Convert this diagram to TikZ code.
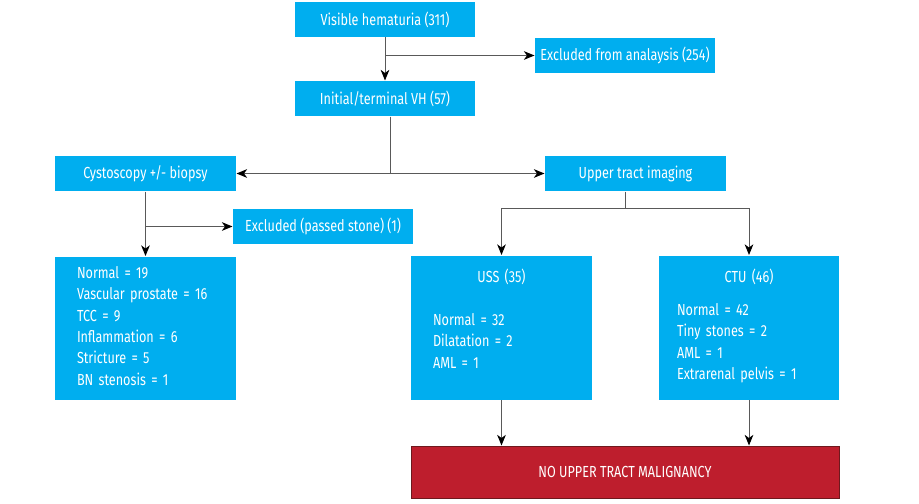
\documentclass[tikz,border=0pt]{standalone}
\usepackage{fontspec}
\setmainfont{Fira Sans}[FakeStretch=0.79]
\usetikzlibrary{arrows.meta}
\definecolor{boxblue}{RGB}{0,174,239}
\definecolor{boxred}{RGB}{190,30,45}
\definecolor{redline}{RGB}{110,25,30}
\tikzset{every picture/.style={line width=0.75pt}}
\tikzset{
  box/.style={fill=boxblue, text=white, inner sep=0pt, minimum width=135pt, minimum height=26.25pt, font=\fontsize{12}{16}\selectfont},
  listbox/.style={box, anchor=north, align=left, inner xsep=16.5pt, inner ysep=0pt, text height=20.25pt, text depth=87.75pt},
  link/.style={draw=black!65, line width=0.75pt},
  arr/.style={link, -{Stealth[length=8pt,width=6.5pt,inset=2.4pt,color=black]}},
}

\begin{document}
\begin{tikzpicture}[x=0.75pt,y=0.75pt,yscale=-1,xscale=1]
	\useasboundingbox (0,0) rectangle (919,503);
	
	%Boxes, top row
	\node[box] (vh) at (385,19.5) {Visible hematuria (311)};
	\node[box] (excl) at (625,55.5) {Excluded from analaysis (254)};
	\node[box] (ivh) at (385,98.5) {Initial/terminal VH (57)};
	%Boxes, second row
	\node[box, minimum width=135.75pt] (cysto) at (145.5,173.5) {Cystoscopy +/- biopsy};
	\node[box, minimum width=135.75pt] (uti) at (635.5,173.5) {Upper tract imaging};
	\node[box] (stone) at (323,226.5) {Excluded (passed stone) (1)};
	
	%Result boxes
	\node[listbox, text width=102.75pt, text height=16.5pt, text depth=90.75pt] (cres) at (145.5,256) {Normal = 19\\Vascular prostate = 16\\TCC = 9\\Inflammation = 6\\Stricture = 5\\BN stenosis = 1};
	\node[listbox, text width=102.75pt] (uss) at (501.5,255) {\makebox[\linewidth]{USS (35)}\\[16.25pt]Normal = 32\\Dilatation = 2\\AML = 1};
	\node[listbox, text width=108pt, inner xsep=13.5pt] (ctu) at (749,255) {\makebox[\linewidth]{CTU (46)}\\[8.75pt]Normal = 42\\Tiny stones = 2\\AML = 1\\Extrarenal pelvis = 1};
	
	%Red box
	\node[box, fill=boxred, draw=redline, minimum width=321pt, minimum height=39pt] (nomal) at (625,472) {NO UPPER TRACT MALIGNANCY};
	
	%Connectors
	\draw[arr] (vh) -- (ivh);
	\draw[arr] (vh.south |- excl.west) -- (excl.west);
	\draw[arr] ([xshift=3.75pt]ivh.south) |- (cysto.east);
	\draw[arr] ([xshift=3.75pt]ivh.south) |- (uti.west);
	\draw[arr] (cysto) -- (cres);
	\draw[arr] (cysto.south |- stone.west) -- (stone.west);
	\coordinate (fork) at (625,208.75);
	\draw[link] (fork |- uti.south) -- (fork);
	\draw[arr] (fork) -| (uss.north);
	\draw[arr] (fork) -| (ctu.north);
	\draw[arr] (uss.south) -- (uss.south |- nomal.north);
	\draw[arr] (ctu.south) -- (ctu.south |- nomal.north);
	
\end{tikzpicture}
\end{document}
